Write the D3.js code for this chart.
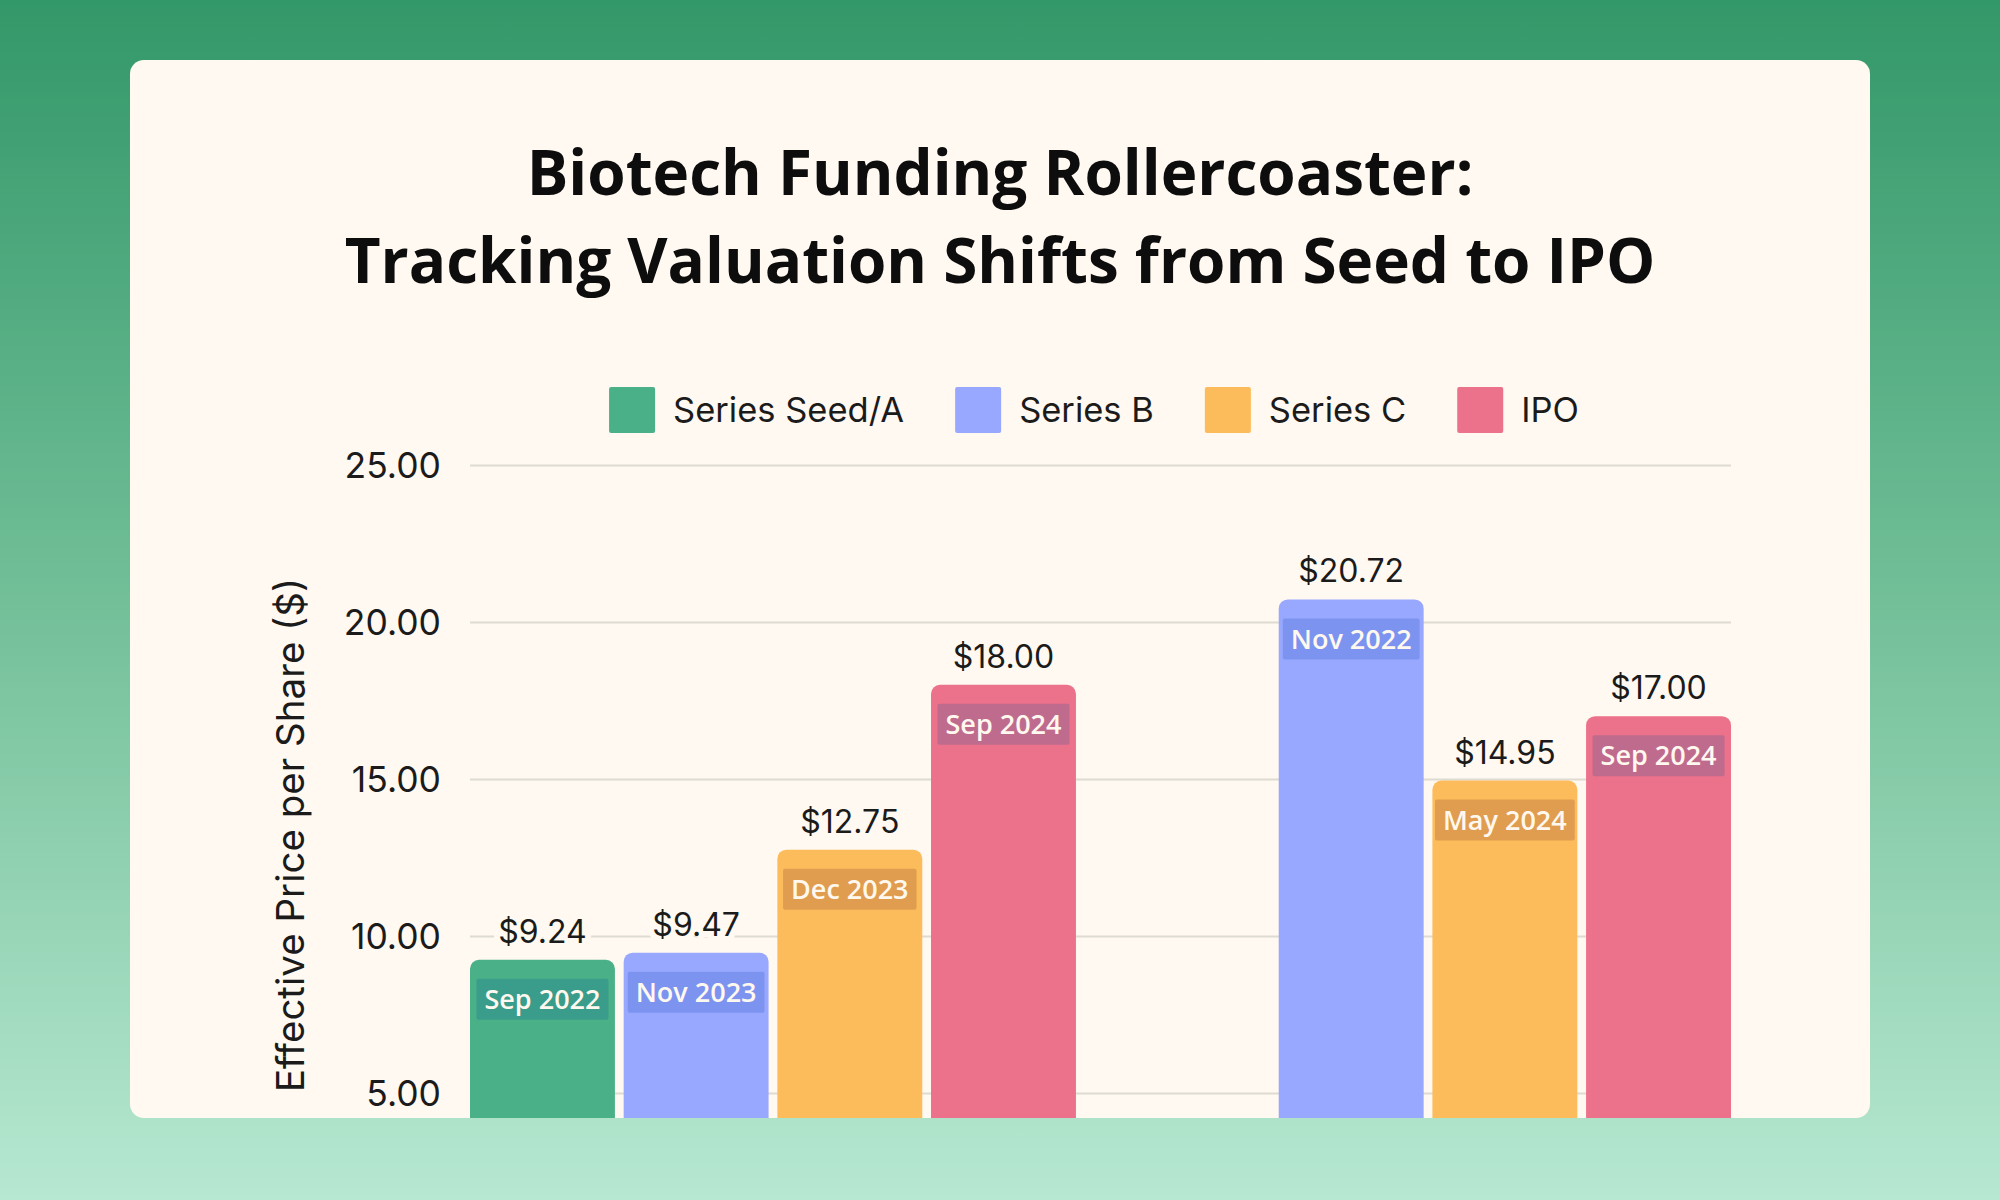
<!DOCTYPE html>
<html>
<head>
<meta charset="utf-8">
<script src="https://cdn.jsdelivr.net/npm/d3@7"></script>
<style>
  html, body { margin: 0; padding: 0; }
  body { width: 2000px; height: 1200px; overflow: hidden; }
</style>
</head>
<body>
<svg id="chart" width="2000" height="1200"></svg>
<script>
// ---- Data ----
const titleLines = ["Biotech Funding Rollercoaster:", "Tracking Valuation Shifts from Seed to IPO"];
const yAxisTitle = "Effective Price per Share ($)";
const categories = ["Company 1", "Company 2"];
const seriesNames = ["Series Seed/A", "Series B", "Series C", "IPO"];
const seriesColors = ["#4AB088", "#98A8FE", "#FDBC5B", "#EC718A"];
const labelBgColors = ["#3A9D8B", "#7C94F0", "#E09D4F", "#BF6B8E"];
const valuesCompany1 = [9.24, 9.47, 12.75, 18.00];
const datesCompany1 = ["Sep 2022", "Nov 2023", "Dec 2023", "Sep 2024"];
const valuesCompany2 = [null, 20.72, 14.95, 17.00];
const datesCompany2 = [null, "Nov 2022", "May 2024", "Sep 2024"];
const yTicks = [5, 10, 15, 20, 25];

const rows = [
  { cat: categories[0], values: valuesCompany1, dates: datesCompany1 },
  { cat: categories[1], values: valuesCompany2, dates: datesCompany2 }
];

// ---- Layout ----
const svg = d3.select("#chart");
const W = 2000, H = 1200;
const card = { x: 130, y: 60, w: 1740, h: 1058, r: 14 };
const plot = { left: 470, right: 1731, top: 465, bottom: 1250 };

const defs = svg.append("defs");
const grad = defs.append("linearGradient").attr("id", "bg").attr("x1", 0).attr("y1", 0).attr("x2", 0).attr("y2", 1);
grad.append("stop").attr("offset", "0%").attr("stop-color", "#339869");
grad.append("stop").attr("offset", "50%").attr("stop-color", "#72BF98");
grad.append("stop").attr("offset", "100%").attr("stop-color", "#B7E8D1");
defs.append("clipPath").attr("id", "cardclip").append("rect")
  .attr("x", card.x).attr("y", card.y).attr("width", card.w).attr("height", card.h).attr("rx", card.r);

svg.append("rect").attr("width", W).attr("height", H).attr("fill", "url(#bg)");
svg.append("rect").attr("x", card.x).attr("y", card.y).attr("width", card.w).attr("height", card.h)
  .attr("rx", card.r).attr("fill", "#FFF9F1");

const g = svg.append("g").attr("clip-path", "url(#cardclip)");

// Title
g.append("text").attr("x", 1000).attr("text-anchor", "middle")
  .attr("font-family", "'Open Sans', sans-serif").attr("font-weight", 700).attr("font-size", 62)
  .attr("fill", "#0d0d0d")
  .selectAll("tspan").data(titleLines).join("tspan")
  .attr("x", 1000).attr("y", (d, i) => 195 + i * 88).text(d => d);

// Scales
const y = d3.scaleLinear().domain([0, 25]).range([plot.bottom, plot.top]);
const x0 = d3.scaleBand().domain(categories).range([plot.left, plot.right]).paddingInner(0.075).paddingOuter(0);
const x1 = d3.scaleBand().domain(seriesNames).range([0, x0.bandwidth()]).paddingInner(0.057);
const color = d3.scaleOrdinal().domain(seriesNames).range(seriesColors);
const labelBg = d3.scaleOrdinal().domain(seriesNames).range(labelBgColors);

// Gridlines + tick labels via axis
const yAxis = d3.axisLeft(y).tickValues(yTicks).tickSize(-(plot.right - plot.left)).tickPadding(29)
  .tickFormat(d3.format(".2f"));
const ax = g.append("g").attr("transform", `translate(${plot.left},0)`).call(yAxis);
ax.select(".domain").remove();
ax.selectAll(".tick line").attr("stroke", "#DEDBD3").attr("stroke-width", 2);
ax.selectAll(".tick text").attr("font-family", "Inter, sans-serif").attr("font-size", 35.5)
  .attr("fill", "#1b1b1b").attr("dy", "0.35em");

// Y-axis title
g.append("text").attr("transform", "translate(304,835) rotate(-90)")
  .attr("text-anchor", "middle").attr("font-family", "Inter, sans-serif").attr("font-size", 38.5)
  .attr("fill", "#1b1b1b").text(yAxisTitle);

// Bars
const flat = [];
rows.forEach(r => r.values.forEach((v, i) => {
  if (v != null) flat.push({ cat: r.cat, series: seriesNames[i], value: v, date: r.dates[i] });
}));

const bars = g.append("g");
bars.selectAll("rect").data(flat).join("rect")
  .attr("x", d => x0(d.cat) + x1(d.series))
  .attr("y", d => y(d.value))
  .attr("width", x1.bandwidth())
  .attr("height", d => y(0) - y(d.value) + 20)
  .attr("rx", 9)
  .attr("fill", d => color(d.series));

// Date labels inside bars
const dl = g.append("g").selectAll("g").data(flat).join("g")
  .attr("transform", d => `translate(${x0(d.cat) + x1(d.series) + x1.bandwidth() / 2},${y(d.value) + 39.5})`);
dl.each(function (d) {
  const sel = d3.select(this);
  const bg = sel.append("rect").attr("fill", labelBg(d.series)).attr("rx", 2);
  const t = sel.append("text").attr("text-anchor", "middle").attr("dy", "0.36em")
    .attr("font-family", "'Open Sans', sans-serif").attr("font-weight", 600).attr("font-size", 27)
    .attr("fill", "#FFF8EE").text(d.date);
  const w = t.node().getComputedTextLength() + 16;
  bg.attr("x", -w / 2).attr("y", -20.5).attr("width", w).attr("height", 41);
});

// Value labels above bars
g.append("g").selectAll("text").data(flat).join("text")
  .attr("x", d => x0(d.cat) + x1(d.series) + x1.bandwidth() / 2)
  .attr("y", d => y(d.value) - 17)
  .attr("text-anchor", "middle")
  .attr("font-family", "Inter, sans-serif").attr("font-size", 32).attr("fill", "#1b1b1b")
  .attr("stroke", "#FFF9F1").attr("stroke-width", 12).attr("paint-order", "stroke")
  .text(d => "$" + d3.format(".2f")(d.value));

// Legend
const legend = g.append("g");
const items = legend.selectAll("g").data(seriesNames).join("g");
items.append("rect").attr("width", 46).attr("height", 46).attr("y", -23).attr("rx", 2)
  .attr("fill", d => color(d));
items.append("text").attr("x", 64).attr("dy", "0.36em")
  .attr("font-family", "Inter, sans-serif").attr("font-size", 34.5).attr("fill", "#1b1b1b")
  .text(d => d);
let cx = 0;
const offsets = [];
items.each(function () {
  offsets.push(cx);
  const tw = d3.select(this).select("text").node().getComputedTextLength();
  cx += 64 + tw + 51;
});
const totalW = cx - 51;
const lx = 1094 - totalW / 2;
items.attr("transform", (d, i) => `translate(${lx + offsets[i]},410)`);
</script>
</body>
</html>
